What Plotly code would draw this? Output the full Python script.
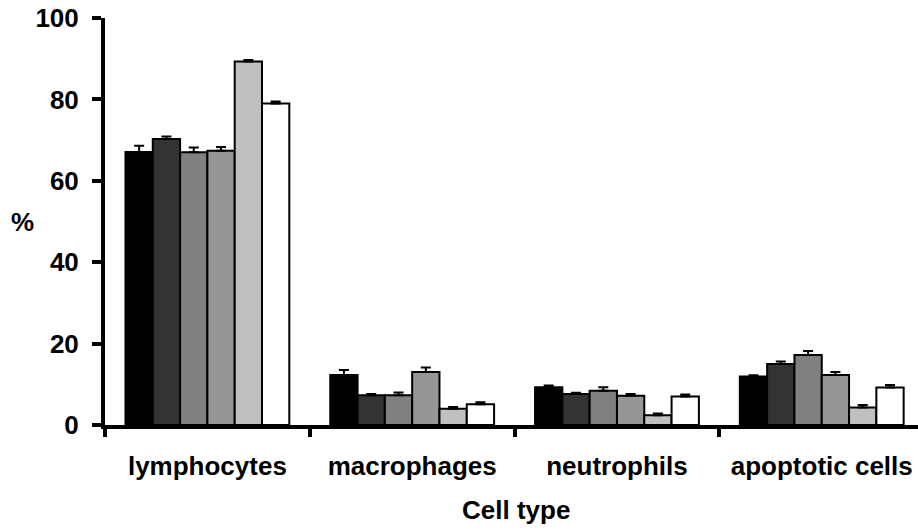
import plotly.graph_objects as go

categories = ["lymphocytes", "macrophages", "neutrophils", "apoptotic cells"]
series_names = ["Group 1", "Group 2", "Group 3", "Group 4", "Group 5", "Group 6"]
series_colors = ["#000000", "#333333", "#808080", "#969696", "#c0c0c0", "#ffffff"]

# values per series (lymphocytes, macrophages, neutrophils, apoptotic cells)
g1 = [67.1, 12.3, 9.3, 11.9]
g2 = [70.3, 7.3, 7.6, 15.0]
g3 = [67.0, 7.3, 8.4, 17.2]
g4 = [67.4, 13.0, 7.2, 12.3]
g5 = [89.3, 4.0, 2.4, 4.3]
g6 = [79.0, 5.1, 7.0, 9.2]

e1 = [1.5, 1.2, 0.4, 0.3]
e2 = [0.6, 0.3, 0.3, 0.6]
e3 = [1.2, 0.7, 0.9, 1.0]
e4 = [0.9, 1.1, 0.4, 0.7]
e5 = [0.4, 0.4, 0.4, 0.6]
e6 = [0.5, 0.5, 0.5, 0.6]

values = [g1, g2, g3, g4, g5, g6]
errors = [e1, e2, e3, e4, e5, e6]

y_ticks = [0, 20, 40, 60, 80, 100]

FONT = "Liberation Sans, Arial, sans-serif"
FSIZE = 26

fig = go.Figure()
for name, color, vals, errs in zip(series_names, series_colors, values, errors):
    fig.add_trace(go.Bar(
        name=name,
        x=categories,
        y=vals,
        marker=dict(color=color, line=dict(color="#000000", width=2)),
        error_y=dict(type="data", array=errs, arrayminus=[0] * len(errs),
                     symmetric=False, color="#000000", thickness=2, width=5),
        showlegend=False,
    ))

fig.update_layout(
    width=918, height=530,
    margin=dict(l=105, r=0, t=18, b=105),
    barmode="group", bargap=0.2, bargroupgap=0,
    plot_bgcolor="white", paper_bgcolor="white",
    font=dict(family=FONT, color="#000000"),
    xaxis=dict(
        type="category", range=[-0.5, 3.47],
        showline=True, linecolor="#000000", linewidth=4,
        ticks="outside", tickson="boundaries", ticklen=8, tickwidth=4,
        tickcolor="#000000",
        tickfont=dict(family=FONT, size=FSIZE, color="#000000", weight="bold"),
        ticklabelstandoff=15,
        showgrid=False, zeroline=False,
    ),
    yaxis=dict(
        range=[0, 100], tickmode="array", tickvals=y_ticks,
        ticktext=[str(v) for v in y_ticks],
        showline=True, linecolor="#000000", linewidth=4,
        ticks="outside", ticklen=9, tickwidth=4, tickcolor="#000000",
        tickfont=dict(family=FONT, size=FSIZE, color="#000000", weight="bold"),
        ticklabelstandoff=8,
        showgrid=False, zeroline=False,
    ),
    annotations=[
        dict(text="<b>Cell type</b>", xref="paper", yref="paper", x=0.505, y=-0.209,
             xanchor="center", yanchor="middle", showarrow=False,
             font=dict(family=FONT, size=FSIZE, color="#000000")),
        dict(text="<b>%</b>", xref="paper", yref="paper", x=-0.102, y=0.5,
             xanchor="center", yanchor="middle", showarrow=False,
             font=dict(family=FONT, size=FSIZE, color="#000000")),
    ],
)

fig.write_html("out.html")
